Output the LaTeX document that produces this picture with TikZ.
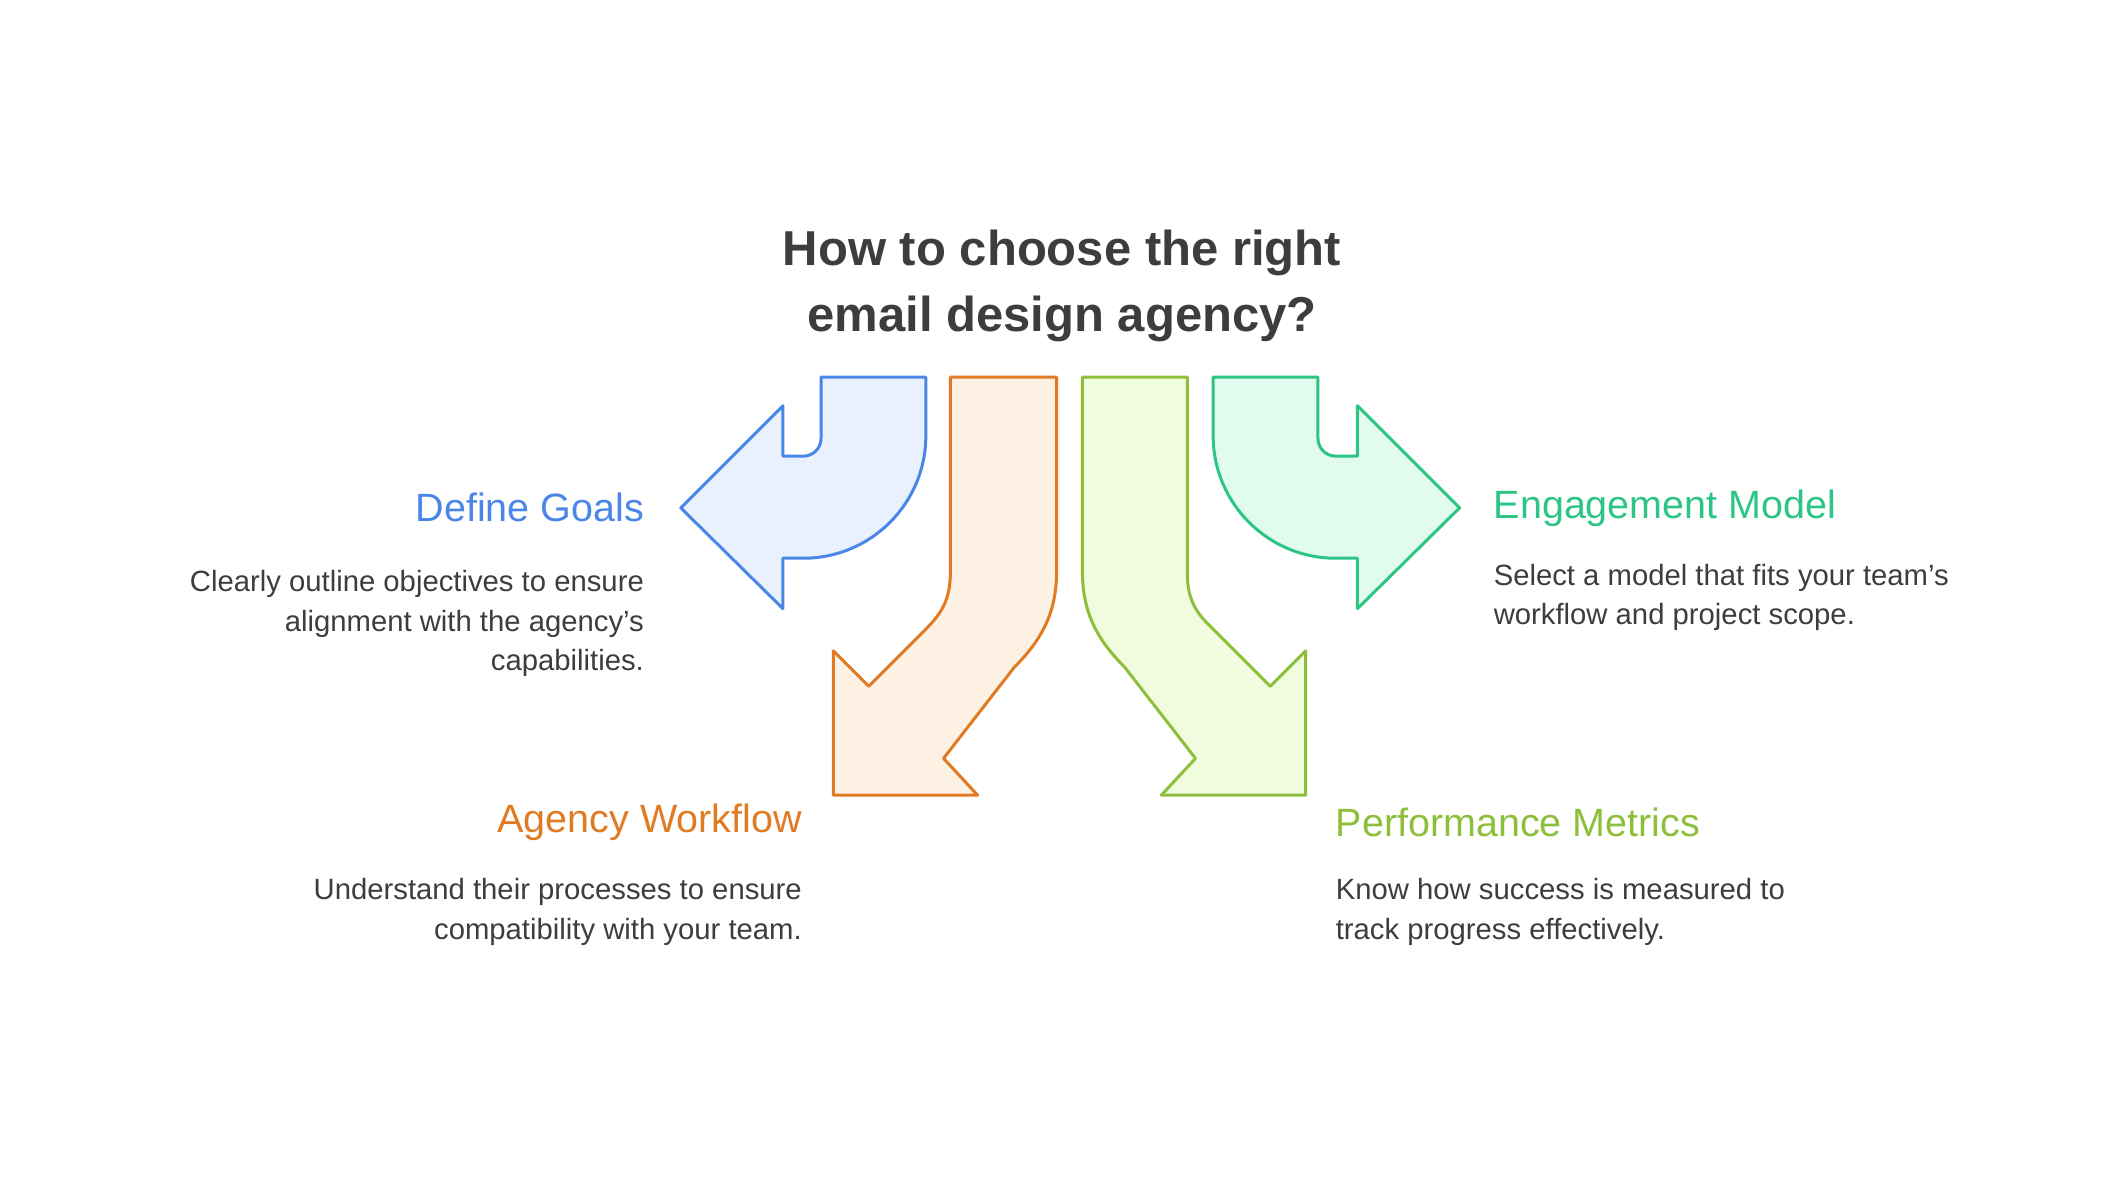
\documentclass[tikz,border=0pt]{standalone}
\usepackage{fontspec}
\setmainfont{Liberation Sans}
\definecolor{bS}{HTML}{4A86E8}\definecolor{bF}{HTML}{E9F1FE}
\definecolor{oS}{HTML}{E07B24}\definecolor{oF}{HTML}{FDF1E4}
\definecolor{gS}{HTML}{8DBF3A}\definecolor{gF}{HTML}{F1FBDD}
\definecolor{tS}{HTML}{2CC585}\definecolor{tF}{HTML}{E1FBEF}
\definecolor{tx}{HTML}{3D3D3D}
\begin{document}
\begin{tikzpicture}[x=1pt,y=-1pt,line width=2.2pt,line join=round,
 head/.style={font=\fontsize{29}{34}\selectfont,inner sep=0pt},
 body/.style={font=\fontsize{21.5}{29}\selectfont,text=tx,inner sep=0pt}]
\useasboundingbox (0,0) rectangle (1560,865);
\node[font=\bfseries\fontsize{36}{48}\selectfont,text=tx,align=center] (title) at (780,210) {How to choose the right\\email design agency?};
% blue
\draw[bS,fill=bF] (603,277) -- (680,277) -- (680,320) arc[start angle=0,end angle=90,radius=90] -- (575,410) -- (575,447) -- (500,373) -- (575,298) -- (575,335) -- (590,335) arc[start angle=90,end angle=0,radius=13] -- cycle;
% orange
\draw[oS,fill=oF] (698,277) -- (776,277) -- (776,420) .. controls (776,450) and (765,470) .. (745,490) -- (693,557) -- (718,584) -- (612,584) -- (612,478) -- (638,504) -- (680,462) .. controls (692,450) and (698,440) .. (698,420) -- cycle;
% lime
\draw[gS,fill=gF] (795,277) -- (872,277) -- (872,420) .. controls (872,440) and (878,450) .. (891,462) -- (933,504) -- (959,478) -- (959,584) -- (853,584) -- (878,557) -- (826,490) .. controls (806,470) and (795,450) .. (795,420) -- cycle;
% teal
\draw[tS,fill=tF] (968,277) -- (891,277) -- (891,320) arc[start angle=180,end angle=90,radius=90] -- (997,410) -- (997,447) -- (1072,373) -- (997,298) -- (997,335) -- (981,335) arc[start angle=90,end angle=180,radius=13] -- cycle;
\node[head,text=bS,anchor=east] (h1) at (474,373) {Define Goals};
\node[body,align=right,anchor=north east] (b1) at (474,418) {Clearly outline objectives to ensure\\alignment with the agency's\\capabilities.};
\node[head,text=tS,anchor=west] (h2) at (1096,373) {Engagement Model};
\node[body,align=left,anchor=north west] (b2) at (1096,413) {Select a model that fits your team's\\workflow and project scope.};
\node[head,text=oS,anchor=east] (h3) at (590,604) {Agency Workflow};
\node[body,align=right,anchor=north east] (b3) at (590,644) {Understand their processes to ensure\\compatibility with your team.};
\node[head,text=gS,anchor=west] (h4) at (980,604) {Performance Metrics};
\node[body,align=left,anchor=north west] (b4) at (980,644) {Know how success is measured to\\track progress effectively.};
\end{tikzpicture}
\end{document}
